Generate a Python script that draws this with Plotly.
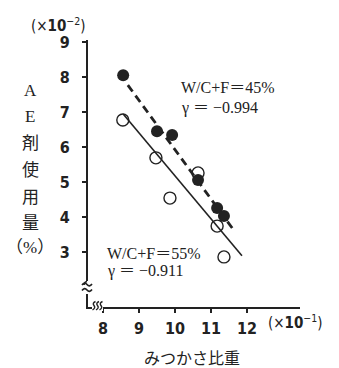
import plotly.graph_objects as go

# Bulk specific gravity (x10^-1) vs. AE agent dosage (x10^-2 %)
sg_45 = [8.56, 9.50, 9.92, 10.64, 11.17, 11.36]
ae_45 = [8.05, 6.45, 6.34, 5.06, 4.26, 4.03]
sg_55 = [8.55, 9.47, 9.86, 10.64, 11.17, 11.36]
ae_55 = [6.77, 5.69, 4.54, 5.26, 3.74, 2.86]

# Regression lines (end points)
fit45_x = [8.69, 11.67]
fit45_y = [7.77, 3.57]
fit55_x = [8.56, 11.86]
fit55_y = [6.94, 2.89]

x_ticks = [8, 9, 10, 11, 12]
y_ticks = [3, 4, 5, 6, 7, 8, 9]
y_label_chars = ["A", "E", "剤", "使", "用", "量", "（%）"]

W, H = 339, 368
L, R, T, B = 88, 39, 40, 61
PW, PH = W - L - R, H - T - B


def px(x):
    return (x - L) / PW


def py(y):
    return (H - B - y) / PH


def path(points, close=False):
    """SVG path in paper units from a list of (cmd, x_pixel, y_pixel) items."""
    parts = []
    for cmd, *xy in points:
        coords = " ".join(f"{px(xy[i]):.4f},{py(xy[i + 1]):.4f}" for i in range(0, len(xy), 2))
        parts.append(f"{cmd}{coords}")
    return " ".join(parts) + (" Z" if close else "")


INK = "#222222"
tick_font = dict(family="DejaVu Sans Condensed, DejaVu Sans", size=16, color=INK, weight="bold")
serif = "Liberation Serif, Noto Sans CJK JP"

fig = go.Figure()
fig.add_trace(go.Scatter(x=fit55_x, y=fit55_y, mode="lines",
                         line=dict(color=INK, width=1.6), showlegend=False))
fig.add_trace(go.Scatter(x=fit45_x, y=fit45_y, mode="lines",
                         line=dict(color=INK, width=2.8, dash="8px,5px"), showlegend=False))
fig.add_trace(go.Scatter(x=sg_55, y=ae_55, mode="markers",
                         marker=dict(symbol="circle-open", size=12, color=INK,
                                     line=dict(width=1.4, color=INK)),
                         showlegend=False))
fig.add_trace(go.Scatter(x=sg_45, y=ae_45, mode="markers",
                         marker=dict(symbol="circle", size=12, color=INK,
                                     line=dict(width=0)),
                         showlegend=False))

ann = []
for ch, yp in zip(y_label_chars, [90, 116, 143, 170, 197, 223, 247]):
    ann.append(dict(text=ch, x=px(30), y=py(yp), xref="paper", yref="paper",
                    showarrow=False, xanchor="center", yanchor="middle",
                    font=dict(family=serif, size=17, color=INK)))

ann += [
    dict(text="(×<b>10</b><sup>−2</sup>)", x=px(58), y=py(25), xref="paper", yref="paper",
         showarrow=False, xanchor="center", yanchor="middle",
         font=dict(family="DejaVu Sans Condensed, DejaVu Sans", size=15, color=INK)),
    dict(text="(×<b>10</b><sup>−1</sup>)", x=px(266), y=py(322), xref="paper", yref="paper",
         showarrow=False, xanchor="left", yanchor="middle",
         font=dict(family="DejaVu Sans Condensed, DejaVu Sans", size=15, color=INK)),
    dict(text="みつかさ比重", x=px(192), y=py(357), xref="paper", yref="paper",
         showarrow=False, xanchor="center", yanchor="middle",
         font=dict(family="Noto Sans CJK JP", size=16, color=INK)),
    dict(text="W/C+F＝45%", x=px(179), y=py(87), xref="paper", yref="paper",
         showarrow=False, xanchor="left", yanchor="middle",
         font=dict(family=serif, size=16, color=INK)),
    dict(text="γ ＝ −0.994", x=px(179), y=py(108), xref="paper", yref="paper",
         showarrow=False, xanchor="left", yanchor="middle",
         font=dict(family=serif, size=16, color=INK)),
    dict(text="W/C+F＝55%", x=px(105), y=py(253), xref="paper", yref="paper",
         showarrow=False, xanchor="left", yanchor="middle",
         font=dict(family=serif, size=16, color=INK)),
    dict(text="γ ＝ −0.911", x=px(105), y=py(271), xref="paper", yref="paper",
         showarrow=False, xanchor="left", yanchor="middle",
         font=dict(family=serif, size=16, color=INK)),
]

# axis break marks on both axes
shapes = [
    dict(type="rect", xref="paper", yref="paper", layer="above",
         x0=px(82), x1=px(93), y0=py(294), y1=py(281),
         fillcolor="white", line=dict(width=0)),
    dict(type="path", xref="paper", yref="paper", layer="above",
         path=path([("M", 82, 285), ("Q", 84.5, 281.5, 87, 284.5), ("Q", 89.5, 287.5, 92, 284)]),
         line=dict(color=INK, width=1.6)),
    dict(type="path", xref="paper", yref="paper", layer="above",
         path=path([("M", 82, 290.5), ("Q", 84.5, 287, 87, 290), ("Q", 89.5, 293, 92, 289.5)]),
         line=dict(color=INK, width=1.6)),
    dict(type="path", xref="paper", yref="paper", layer="above",
         path=path([("M", 87, 281.5), ("Q", 84, 282, 84, 285)]),
         line=dict(color=INK, width=1.6)),
    dict(type="rect", xref="paper", yref="paper", layer="above",
         x0=px(92), x1=px(103), y0=py(311), y1=py(302),
         fillcolor="white", line=dict(width=0)),
]
for x0 in (92.5, 96, 99.5):
    shapes.append(dict(type="path", xref="paper", yref="paper", layer="above",
                       path=path([("M", x0, 310), ("Q", x0 + 3.5, 308, x0 + 1.5, 305.5),
                                  ("Q", x0 - 0.5, 303, x0 + 3, 301.5)]),
                       line=dict(color=INK, width=1.4)))

fig.update_layout(
    width=W, height=H,
    margin=dict(l=L, r=R, t=T, b=B),
    paper_bgcolor="white", plot_bgcolor="white",
    annotations=ann, shapes=shapes,
    xaxis=dict(range=[8 - 15 / 36, 8 + 197 / 36], tickvals=x_ticks,
               ticktext=[str(v) for v in x_ticks],
               showgrid=False, zeroline=False, showline=True, linecolor=INK, linewidth=2,
               ticks="outside", ticklen=4, tickwidth=2, tickcolor=INK,
               tickfont=tick_font, ticklabelstandoff=2),
    yaxis=dict(range=[3 - 55 / 35, 9 + 2 / 35], tickvals=y_ticks,
               showgrid=False, zeroline=False, showline=True, linecolor=INK, linewidth=2,
               ticks="outside", ticklen=4, tickwidth=2, tickcolor=INK,
               tickfont=tick_font, ticklabelstandoff=9),
)

fig.write_html("out.html")
